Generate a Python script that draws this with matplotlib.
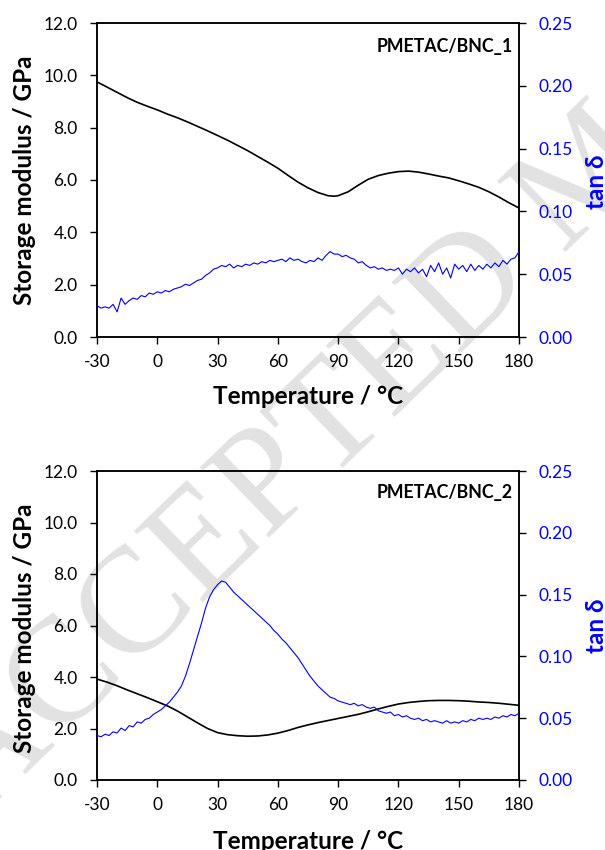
import matplotlib
matplotlib.use("Agg")
import matplotlib.pyplot as plt
import numpy as np

plt.rcParams['font.family'] = ['Lato', 'DejaVu Sans']

# ---------------- data ----------------
temp_E = [-30, -25, -20, -15, -10, -5, 0, 5, 10, 15, 20, 25, 30, 35, 40, 45, 50, 55, 60, 65,
          70, 75, 80, 85, 88, 90, 95, 100, 105, 110, 115, 120, 125, 130, 135, 140, 145, 150,
          155, 160, 165, 170, 175, 180]
E1 = [9.75, 9.55, 9.35, 9.15, 8.97, 8.82, 8.68, 8.52, 8.38, 8.22, 8.05, 7.88, 7.70, 7.52,
      7.32, 7.12, 6.90, 6.68, 6.45, 6.18, 5.92, 5.70, 5.52, 5.40, 5.38, 5.40, 5.55, 5.80,
      6.03, 6.17, 6.26, 6.32, 6.34, 6.30, 6.23, 6.15, 6.08, 5.97, 5.85, 5.72, 5.55, 5.35,
      5.13, 4.93]
temp_E2 = [-30, -25, -20, -15, -10, -5, 0, 5, 10, 15, 20, 25, 30, 35, 40, 45, 50, 55, 60, 65,
           70, 75, 80, 85, 90, 95, 100, 105, 110, 115, 120, 125, 130, 135, 140, 145, 150, 155,
           160, 165, 170, 175, 180]
E2 = [3.92, 3.80, 3.66, 3.50, 3.35, 3.20, 3.04, 2.88, 2.68, 2.45, 2.22, 2.00, 1.84, 1.76,
      1.72, 1.70, 1.71, 1.75, 1.82, 1.92, 2.04, 2.14, 2.23, 2.31, 2.39, 2.47, 2.55, 2.65,
      2.76, 2.86, 2.95, 3.01, 3.05, 3.08, 3.09, 3.09, 3.08, 3.06, 3.03, 3.01, 2.98, 2.94,
      2.90]

temp_tan = list(range(-30, 181, 2))
tan1 = [0.025, 0.023, 0.024, 0.023, 0.026, 0.020, 0.031, 0.026, 0.029, 0.031, 0.030, 0.033,
        0.032, 0.035, 0.034, 0.036, 0.035, 0.037, 0.036, 0.038, 0.039, 0.040, 0.042, 0.041,
        0.043, 0.045, 0.046, 0.049, 0.051, 0.054, 0.055, 0.057, 0.056, 0.058, 0.055, 0.057,
        0.056, 0.058, 0.057, 0.059, 0.058, 0.060, 0.059, 0.061, 0.060, 0.061, 0.062, 0.060,
        0.063, 0.061, 0.062, 0.060, 0.059, 0.061, 0.060, 0.063, 0.061, 0.065, 0.068, 0.066,
        0.066, 0.064, 0.065, 0.063, 0.062, 0.059, 0.060, 0.057, 0.055, 0.056, 0.054, 0.055,
        0.053, 0.054, 0.053, 0.055, 0.050, 0.054, 0.052, 0.055, 0.051, 0.054, 0.048, 0.057,
        0.052, 0.059, 0.050, 0.055, 0.047, 0.058, 0.054, 0.057, 0.052, 0.058, 0.053, 0.057,
        0.054, 0.058, 0.055, 0.059, 0.056, 0.061, 0.058, 0.062, 0.063, 0.068]
tan2 = [0.036, 0.035, 0.037, 0.036, 0.039, 0.038, 0.042, 0.040, 0.044, 0.043, 0.047, 0.046,
        0.049, 0.050, 0.053, 0.055, 0.057, 0.060, 0.063, 0.067, 0.071, 0.076, 0.084, 0.094,
        0.105, 0.116, 0.127, 0.139, 0.148, 0.154, 0.158, 0.161, 0.160, 0.156, 0.152, 0.149,
        0.146, 0.143, 0.140, 0.137, 0.134, 0.131, 0.128, 0.125, 0.121, 0.118, 0.114, 0.111,
        0.107, 0.103, 0.099, 0.094, 0.089, 0.084, 0.080, 0.076, 0.073, 0.070, 0.067, 0.066,
        0.064, 0.063, 0.062, 0.061, 0.062, 0.060, 0.061, 0.059, 0.058, 0.059, 0.056, 0.055,
        0.054, 0.055, 0.052, 0.053, 0.051, 0.052, 0.050, 0.049, 0.050, 0.048, 0.049, 0.047,
        0.048, 0.047, 0.046, 0.048, 0.046, 0.047, 0.046, 0.048, 0.047, 0.049, 0.048, 0.050,
        0.049, 0.050, 0.049, 0.051, 0.050, 0.052, 0.051, 0.053, 0.052, 0.054]

x_ticks = [-30, 0, 30, 60, 90, 120, 150, 180]
y_ticks = [0, 2, 4, 6, 8, 10, 12]
y_tick_labels = ['0.0', '2.0', '4.0', '6.0', '8.0', '10.0', '12.0']
r_ticks = [0.00, 0.05, 0.10, 0.15, 0.20, 0.25]
r_tick_labels = ['0.00', '0.05', '0.10', '0.15', '0.20', '0.25']
titles = ['PMETAC/BNC_1', 'PMETAC/BNC_2']

# ---------------- figure ----------------
W, H = 605, 850
fig = plt.figure(figsize=(W / 100, H / 100), dpi=100)

# watermark
fig.text(-22 / W, 1 - 819 / H, 'ACCEPTED MANUSCRIPT', fontsize=108, color='#e2e2e2',
         family='Liberation Serif', rotation=44, rotation_mode='anchor',
         ha='left', va='baseline', zorder=-5)

panels = [
    dict(rect=[97 / W, 1 - 337 / H, 422 / W, 314 / H], E=(temp_E, E1), tan=tan1,
         xl_y=404, yl_y=180, tl_y=182, ty=0.926),
    dict(rect=[97 / W, 1 - 780 / H, 422 / W, 309 / H], E=(temp_E2, E2), tan=tan2,
         xl_y=849, yl_y=628, tl_y=626, ty=0.929),
]

for i, p in enumerate(panels):
    ax = fig.add_axes(p['rect'])
    ax.patch.set_alpha(0)
    ax2 = ax.twinx()
    ax2.patch.set_alpha(0)
    ax.plot(p['E'][0], p['E'][1], color='black', lw=1.2, zorder=3)
    ax2.plot(temp_tan, p['tan'], color='#0000ff', lw=0.8, zorder=3)

    ax.set_xlim(-30, 180)
    ax.set_ylim(0, 12)
    ax2.set_ylim(0, 0.25)
    ax.set_xticks(x_ticks)
    ax.set_xticklabels([str(v) for v in x_ticks])
    ax.set_yticks(y_ticks)
    ax.set_yticklabels(y_tick_labels)
    ax2.set_yticks(r_ticks)
    ax2.set_yticklabels(r_tick_labels)

    for a in (ax, ax2):
        for s in a.spines.values():
            s.set_linewidth(1.1)
            s.set_color('black')
    ax.tick_params(axis='both', direction='out', length=5, width=1.0, labelsize=12.5,
                   colors='black')
    ax.tick_params(axis='x', pad=7)
    ax.tick_params(axis='y', pad=9)
    ax2.tick_params(axis='y', direction='out', length=5, width=1.0, labelsize=12.5,
                    labelcolor='#0000ff', color='black', pad=9)

    ax.text(0.985, p['ty'], titles[i], transform=ax.transAxes, ha='right', va='center',
            fontsize=12.8, fontweight='bold', color='black')

    fig.text(308 / W, 1 - p['xl_y'] / H, 'Temperature / °C', ha='center', va='baseline',
             fontsize=17.5, fontweight='bold')
    fig.text(25 / W, 1 - p['yl_y'] / H, 'Storage modulus / GPa', ha='center', va='center',
             rotation=90, fontsize=17.5, fontweight='bold')
    fig.text(597 / W, 1 - p['tl_y'] / H, 'tan δ', ha='center', va='center',
             rotation=90, fontsize=17.5, fontweight='bold', color='#0000ff')

fig.savefig('out.png', dpi=100)
